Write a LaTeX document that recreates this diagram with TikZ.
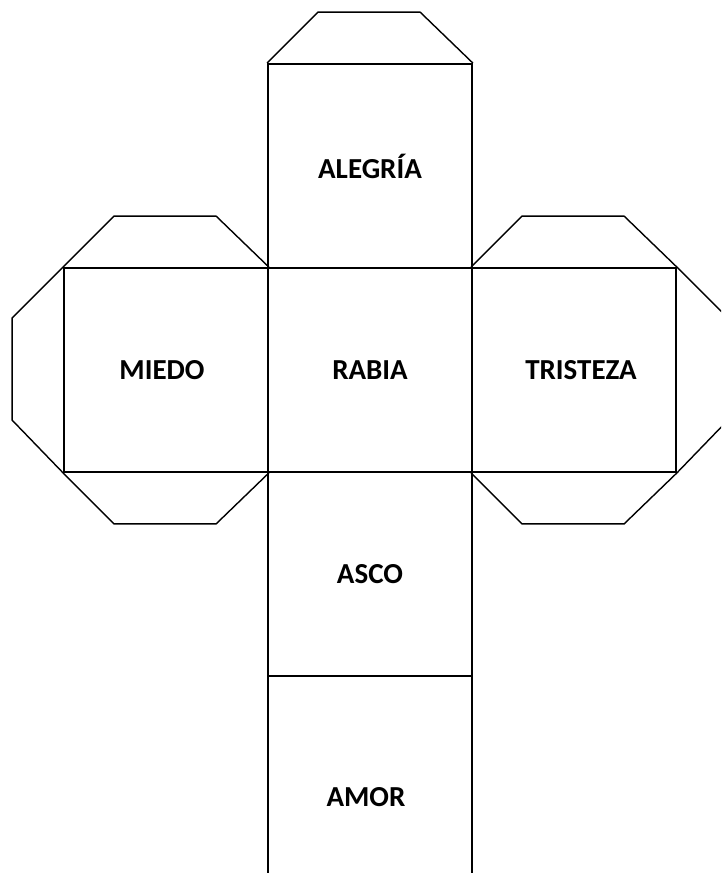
\documentclass[tikz,border=0pt]{standalone}
\usepackage{fontspec}
\setmainfont{Carlito}
\usetikzlibrary{positioning}

\begin{document}
\begin{tikzpicture}[
    x=1pt, y=-1pt,
    face/.style={draw, line width=1.8pt, minimum width=204pt, minimum height=204pt, inner sep=0pt, font=\fontsize{29}{32}\selectfont\bfseries},
    flap/.style={draw, line width=1.4pt, line join=miter}
  ]
    \clip (0,0) rectangle (721,873);

    \node[face] (alegria) at (370,166) {ALEGRÍA};
    \node[face] (miedo) at (166,370) {\hspace*{-8pt}MIEDO};
    \node[face] (rabia) at (370,370) {RABIA};
    \node[face] (tristeza) at (574,370) {\hspace*{14pt}TRISTEZA};
    \node[face] (asco) at (370,574) {ASCO};
    \node[face, minimum height=242pt] (amor) at (370,797) {\hspace*{-8pt}AMOR};

    \draw[flap] (alegria.north west) -- ++(51,-51) -- ++(102,0) -- (alegria.north east);
    \draw[flap] (miedo.north west) -- ++(51,-51) -- ++(102,0) -- (miedo.north east);
    \draw[flap] (miedo.south west) -- ++(51,51) -- ++(102,0) -- (miedo.south east);
    \draw[flap] (miedo.north west) -- ++(-51,51) -- ++(0,102) -- (miedo.south west);
    \draw[flap] (tristeza.north west) -- ++(51,-51) -- ++(102,0) -- (tristeza.north east);
    \draw[flap] (tristeza.south west) -- ++(51,51) -- ++(102,0) -- (tristeza.south east);
    \draw[flap] (tristeza.north east) -- ++(51,51) -- ++(0,102) -- (tristeza.south east);
  \end{tikzpicture}
\end{document}
